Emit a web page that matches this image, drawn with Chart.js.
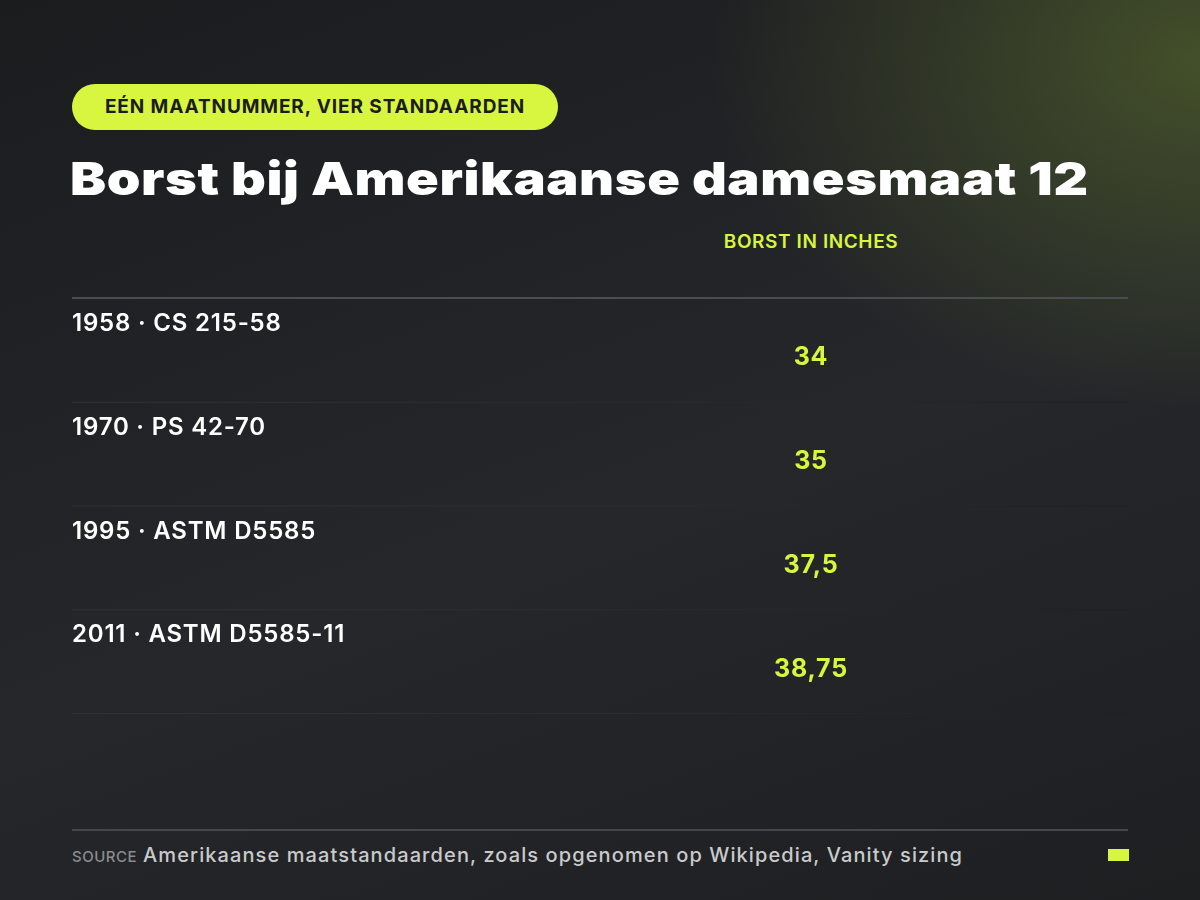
<!DOCTYPE html>
<html>
<head>
<meta charset="utf-8">
<script src="https://cdn.jsdelivr.net/npm/chart.js@4"></script>
<style>
  body { margin: 0; width: 1200px; height: 900px; overflow: hidden;
    background: radial-gradient(ellipse 700px 500px at 1200px 60px, rgba(95,115,45,0.55), rgba(40,44,40,0) 70%),
                linear-gradient(160deg, #1b1c1e 0%, #25272a 55%, #1e1f21 100%);
    font-family: Inter, "Noto Sans", sans-serif; color: #fff; position: relative; }
  .pill { position: absolute; left: 72px; top: 84px; height: 46px; width: 486px; box-sizing: border-box;
    background: #d8f53f; color: #1b1c1e; border-radius: 23px; font-weight: 700; font-size: 19px;
    line-height: 46px; text-align: center; letter-spacing: 0.9px; }
  h1 { position: absolute; left: 70px; top: 150px; margin: 0; font-size: 46px; font-weight: 900;
    letter-spacing: 0.5px; transform: scaleX(1.175); transform-origin: left; }
  .colhead { position: absolute; left: 660px; width: 302px; top: 230px; text-align: center;
    color: #d8f53f; font-size: 19px; font-weight: 600; letter-spacing: 0.6px; }
  .hline { position: absolute; left: 72px; width: 1056px; height: 2px; background: #4a4c50; }
  #wrap { position: absolute; left: 72px; top: 299px; width: 1056px; height: 415px; }
  .src { position: absolute; left: 72px; top: 843px; font-size: 20px; color: #c9cacc; font-weight: 500; letter-spacing: 1.1px; }
  .src span { font-size: 15px; color: #8a8c90; margin-right: 6px; letter-spacing: 0.5px; }
  .sq { position: absolute; left: 1108px; top: 849px; width: 21px; height: 12px; background: #d8f53f; }
</style>
</head>
<body>
<div class="pill">EÉN MAATNUMMER, VIER STANDAARDEN</div>
<h1>Borst bij Amerikaanse damesmaat 12</h1>
<div class="colhead">BORST IN INCHES</div>
<div class="hline" style="top:297px"></div>
<div id="wrap"><canvas id="tbl"></canvas></div>
<div class="hline" style="top:829px;background:#45474b"></div>
<div class="src"><span>SOURCE</span>Amerikaanse maatstandaarden, zoals opgenomen op Wikipedia, Vanity sizing</div>
<div class="sq"></div>
<script>
const rowLabels = ["1958 · CS 215-58", "1970 · PS 42-70", "1995 · ASTM D5585", "2011 · ASTM D5585-11"];
const bustInches = [34, 35, 37.5, 38.75];
const bustText = ["34", "35", "37,5", "38,75"];

const tablePlugin = {
    id: "tablePlugin",
    afterDraw(chart) {
        const ctx = chart.ctx;
        const y = chart.scales.y;
        const band = (y.bottom - y.top) / rowLabels.length;
        ctx.save();
        rowLabels.forEach((label, i) => {
            const mid = y.getPixelForValue(i);
            const top = mid - band / 2;
            const bottom = mid + band / 2;
            const g = ctx.createLinearGradient(0, 0, chart.width, 0);
            g.addColorStop(0, "rgba(60,62,66,0.5)");
            g.addColorStop(1, "rgba(30,32,34,0.9)");
            ctx.fillStyle = g;
            ctx.fillRect(0, bottom - 1, chart.width, 1);
            ctx.fillStyle = "#ffffff";
            ctx.font = "600 24px Inter, sans-serif";
            ctx.letterSpacing = "0.8px";
            ctx.textBaseline = "middle";
            ctx.textAlign = "left";
            ctx.fillText(label, 0, top + 25);
            ctx.fillStyle = "#d8f53f";
            ctx.font = "700 25px Inter, sans-serif";
            ctx.textAlign = "center";
            ctx.fillText(bustText[i], 739, mid + 7);
        });
        ctx.restore();
    }
};

new Chart(document.getElementById("tbl"), {
    type: "bar",
    data: {
        labels: rowLabels,
        datasets: [{
            data: bustInches,
            backgroundColor: "rgba(0,0,0,0)"
        }]
    },
    options: {
        indexAxis: "y",
        responsive: true,
        maintainAspectRatio: false,
        animation: false,
        layout: { padding: 0 },
        plugins: { legend: { display: false }, tooltip: { enabled: false } },
        scales: {
            x: { display: false, min: 0, max: 40 },
            y: { display: false }
        }
    },
    plugins: [tablePlugin]
});
</script>
</body>
</html>
